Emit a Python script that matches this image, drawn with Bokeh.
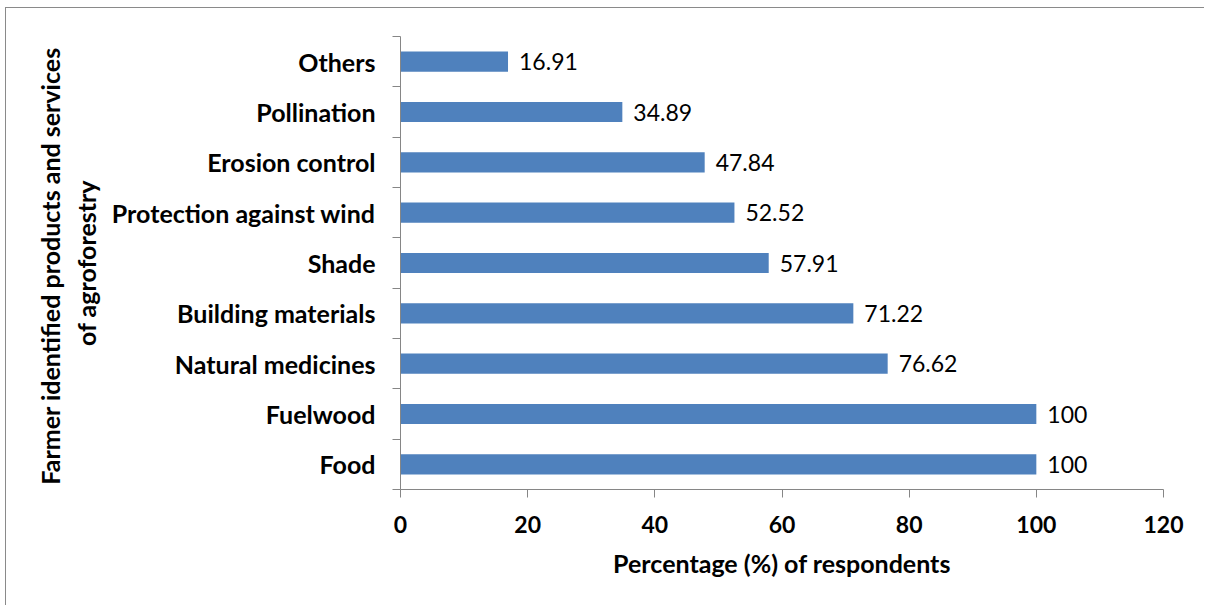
from bokeh.plotting import figure
from bokeh.models import Range1d, FixedTicker, ColumnDataSource
from bokeh.embed import file_html
from bokeh.resources import INLINE
from bokeh.core.properties import value

categories = ["Food", "Fuelwood", "Natural medicines", "Building materials", "Shade",
              "Protection against wind", "Erosion control", "Pollination", "Others"]
percentages = [100, 100, 76.62, 71.22, 57.91, 52.52, 47.84, 34.89, 16.91]
value_labels = ["100", "100", "76.62", "71.22", "57.91", "52.52", "47.84", "34.89", "16.91"]
x_ticks = [0, 20, 40, 60, 80, 100, 120]

positions = list(range(len(categories)))
src = ColumnDataSource(dict(y=positions, v=percentages, lab=value_labels))

FONT = "Lato"
p = figure(width=1199, height=598, output_backend="svg", toolbar_location=None,
           x_range=Range1d(0, 120), y_range=Range1d(-0.5, len(categories) - 0.5),
           min_border_left=394, min_border_right=42, min_border_top=28, min_border_bottom=117)
p.styles = {"border-left": "1px solid #8a8a8a", "border-top": "1px solid #8a8a8a",
            "margin-left": "5px", "margin-top": "7px"}
p.outline_line_color = None
p.xgrid.visible = False
p.ygrid.visible = False

p.hbar(y="y", right="v", left=0, height=0.4, source=src, fill_color="#4F81BD", line_color=None)
p.text(x="v", y="y", text="lab", source=src, x_offset=11, text_align="left",
       text_baseline="middle", text_font=value(FONT), text_font_size="23px", text_color="black")

AX = "#868686"
xa = p.xaxis[0]
xa.ticker = FixedTicker(ticks=x_ticks)
xa.axis_line_color = AX
xa.major_tick_line_color = AX
xa.major_tick_out = 8
xa.major_tick_in = 0
xa.minor_tick_line_color = None
xa.major_label_text_font = FONT
xa.major_label_text_font_style = "bold"
xa.major_label_text_font_size = "23px"
xa.major_label_text_color = "black"
xa.major_label_standoff = 18
xa.axis_label = "Percentage (%) of respondents"
xa.axis_label_text_font = FONT
xa.axis_label_text_font_style = "bold"
xa.axis_label_text_font_size = "25px"
xa.axis_label_text_color = "black"
xa.axis_label_standoff = 12

ya = p.yaxis[0]
ya.ticker = FixedTicker(ticks=positions, minor_ticks=[i - 0.5 for i in range(len(categories) + 1)])
ya.major_label_overrides = {i: c for i, c in enumerate(categories)}
ya.axis_line_color = AX
ya.major_tick_line_color = None
ya.major_tick_out = 0
ya.major_tick_in = 0
ya.minor_tick_line_color = AX
ya.minor_tick_out = 8
ya.minor_tick_in = 0
ya.major_label_text_font = FONT
ya.major_label_text_font_style = "bold"
ya.major_label_text_font_size = "25px"
ya.major_label_text_color = "black"
ya.major_label_standoff = 17
ya.axis_label = "Farmer identified products  and services\nof agroforestry"
ya.axis_label_text_font = FONT
ya.axis_label_text_font_style = "bold"
ya.axis_label_text_font_size = "25px"
ya.axis_label_text_color = "black"
ya.axis_label_standoff = 8

open("out.html", "w").write(file_html(p, INLINE))
